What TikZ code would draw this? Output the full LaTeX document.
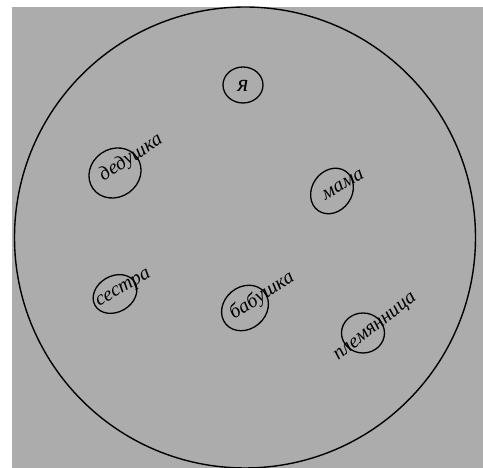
\documentclass[tikz,border=0pt]{standalone}
\usepackage{fontspec}
\setmainfont{Liberation Serif}
\usetikzlibrary{shapes.geometric}
\definecolor{paper}{RGB}{172,172,172}

\begin{document}
\begin{tikzpicture}[x=1pt, y=1pt,
  ring/.style={draw, ellipse, line width=1.3pt, inner sep=0pt},
  word/.style={font=\fontsize{20}{20}\selectfont\itshape, inner sep=0pt}]
\useasboundingbox (0,0) rectangle (483,468);
\fill[paper] (12,0) rectangle (483,461);
\node[draw, circle, line width=1.4pt, minimum size=461pt, inner sep=0pt] (family) at (245,230.5) {};
% me
\node[ring, minimum width=40pt, minimum height=36pt] (ya) at (243,383) {};
\node[word, font=\fontsize{24}{24}\selectfont\itshape] (yaw) at (243,382) {я};
% grandfather
\node[ring, minimum width=54pt, minimum height=48pt, rotate=35] (ded) at (115,295) {};
\node[word, rotate=33] (dedw) at (131,310) {дедушка};
% mother
\node[ring, minimum width=48pt, minimum height=40pt, rotate=55] (mama) at (332,277) {};
\node[word, rotate=30] (mamaw) at (343,283) {мама};
% sister
\node[ring, minimum width=46pt, minimum height=36pt, rotate=30] (sis) at (115,174) {};
\node[word, rotate=30] (sisw) at (124,179) {сестра};
% grandmother
\node[ring, minimum width=50pt, minimum height=42pt, rotate=40] (bab) at (245,160) {};
\node[word, rotate=33] (babw) at (262,172) {бабушка};
% niece
\node[ring, minimum width=43pt, minimum height=40pt] (niece) at (363,135) {};
\node[word, rotate=38] (niecew) at (376,140) {племянница};
\end{tikzpicture}
\end{document}
